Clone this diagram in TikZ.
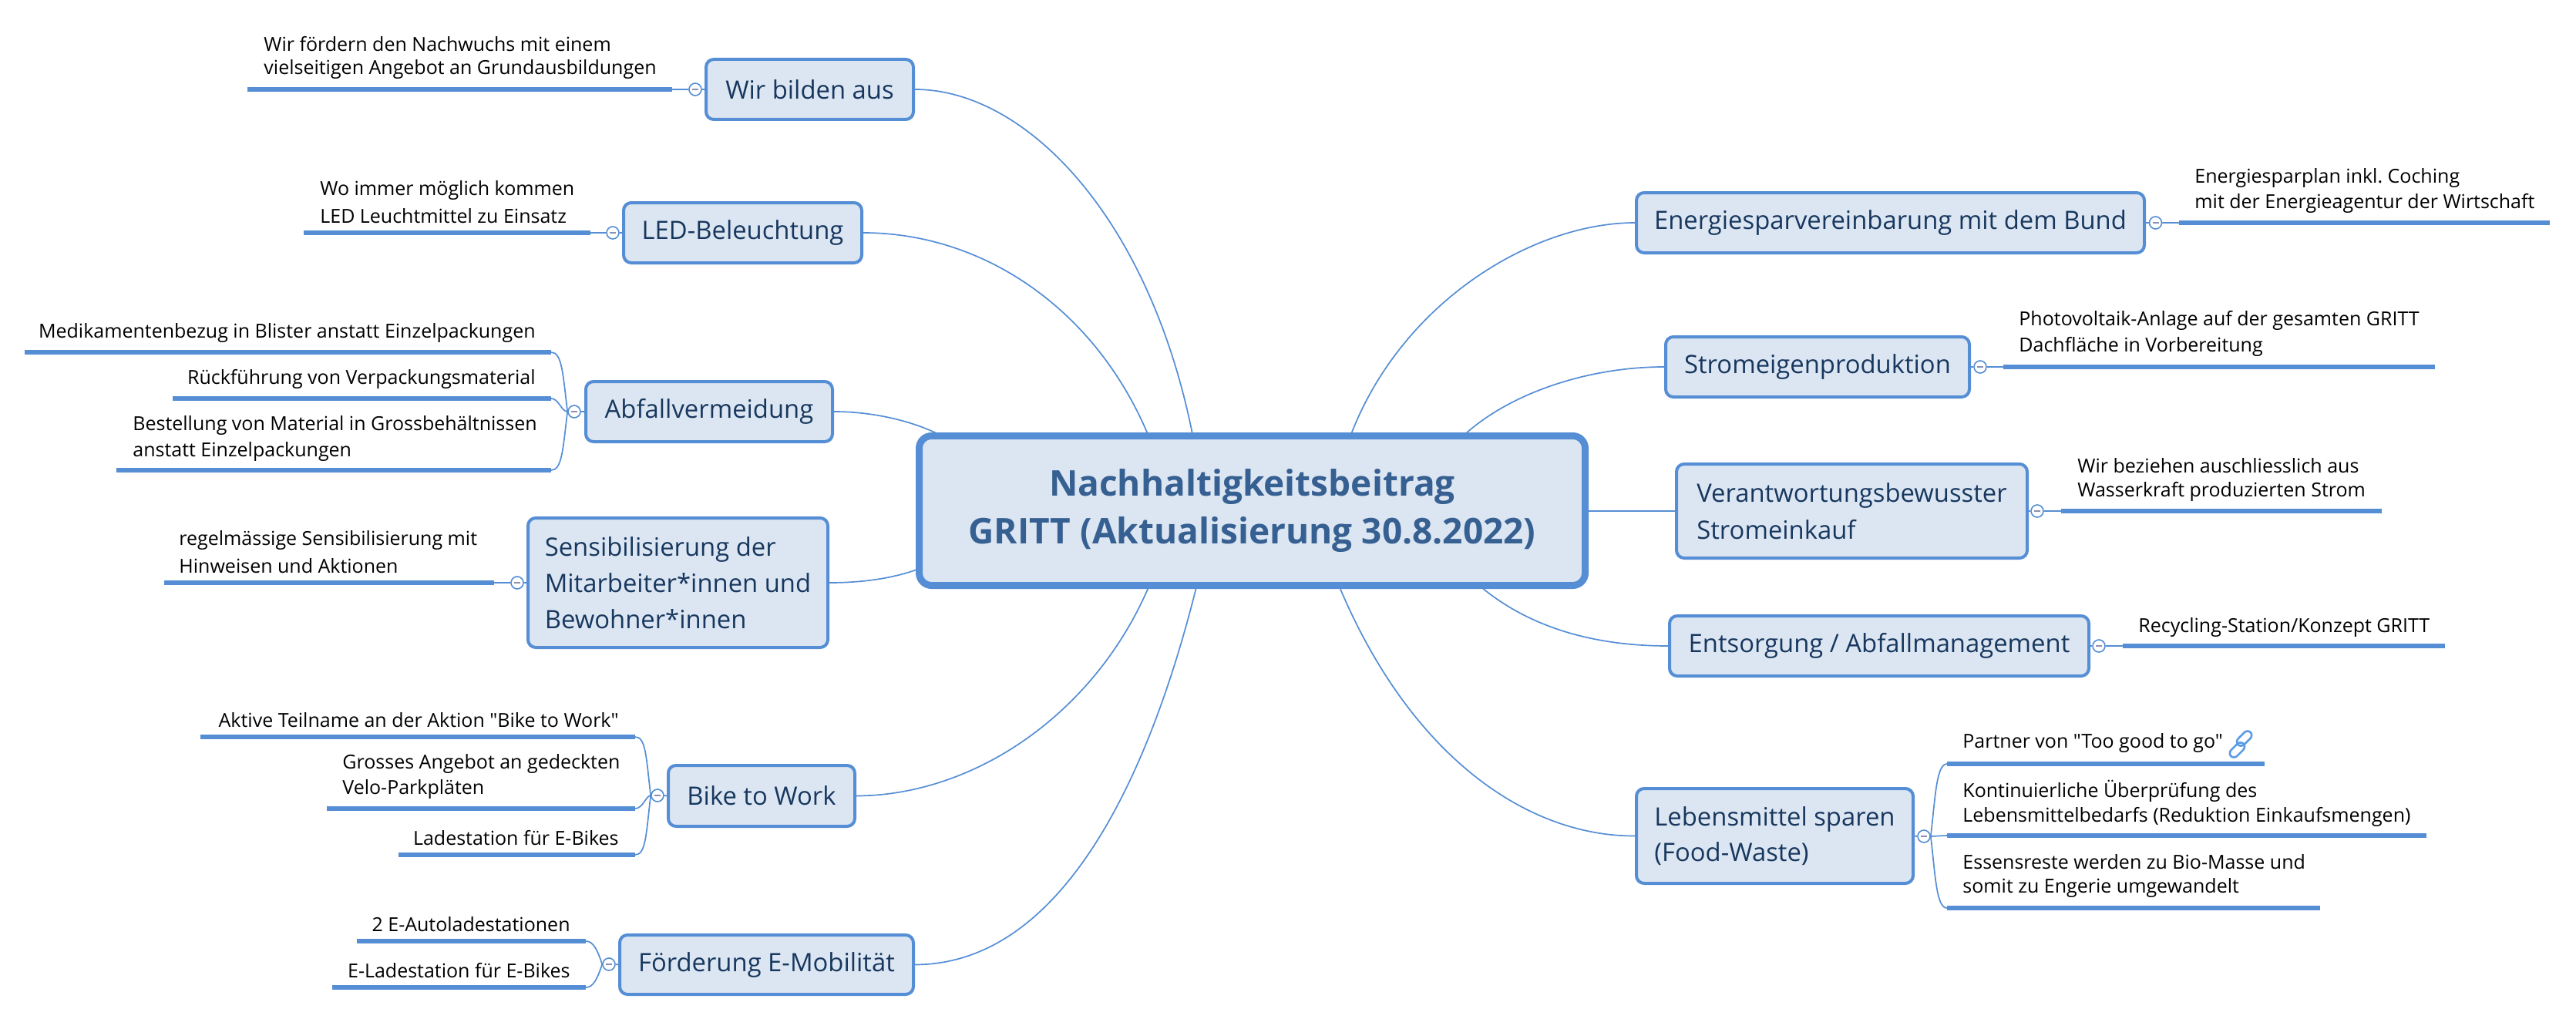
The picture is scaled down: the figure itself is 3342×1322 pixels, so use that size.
\documentclass[tikz,border=0pt]{standalone}
\usepackage{fontspec}
\setmainfont{Open Sans}[Ligatures=TeXOff]
\definecolor{bdr}{HTML}{558ED5}
\definecolor{boxfill}{HTML}{DCE6F2}
\definecolor{topictext}{HTML}{17375E}
\definecolor{roottext}{HTML}{376092}
\definecolor{dashc}{HTML}{8C8FB0}
\definecolor{linkc}{HTML}{5B9BE6}
\tikzset{
  topic/.style={draw=bdr,fill=boxfill,line width=2pt,rounded corners=5pt,text=topictext,align=left,inner sep=0pt},
  rootbox/.style={draw=bdr,fill=boxfill,line width=4.5pt,rounded corners=8pt,text=roottext,align=center,inner sep=0pt,font=\bfseries\fontsize{23}{31}\selectfont},
  conn/.style={draw=bdr,line width=.85pt},
  ulin/.style={draw=bdr,line width=3.2pt},
  collapse/.style={circle,draw=bdr,fill=white,line width=.8pt,minimum size=8pt,inner sep=0pt,
    path picture={\draw[dashc,line width=.7pt] ([xshift=-2pt]path picture bounding box.center) -- ([xshift=2pt]path picture bounding box.center);}},
  notetext/.style={inner sep=0pt,align=left,text=black}
}
% name, x1, y1, x2, y2, baseline (pt), text
\newcommand\tb[7]{\node[topic,minimum width={(#4-#2-2)*0.5pt},minimum height={(#5-#3-2)*0.5pt},font=\fontsize{16.4}{#6}\selectfont] (#1) at ({(#2+#4)/2},{(#3+#5)/2}) {#7};}
% name, anchor, x, y, baseline (pt), text
\newcommand\nt[6]{\node[notetext,anchor=#2,font=\fontsize{12.5}{#5}\selectfont\frenchspacing] (#1) at (#3,#4+2) {#6};}
% name, x1, x2, y
\newcommand\ul[4]{\coordinate (#1a) at (#2,#4);\coordinate (#1b) at (#3,#4);\draw[ulin] (#1a) -- (#1b);}
\begin{document}
\begin{tikzpicture}[x=0.5pt,y=-0.5pt]
\useasboundingbox (0,0) rectangle (3342,1322);
% central topic
\node[rootbox,minimum width={864*0.5pt},minimum height={194*0.5pt}] (root) at (1624.5,662.5) {Nachhaltigkeitsbeitrag\\GRITT (Aktualisierung 30.8.2022)};
\coordinate (rwir) at (1547,563);
\coordinate (rled) at (1489,563);
\coordinate (rabf) at (1217,563);
\coordinate (rsen) at (1192,738);
\coordinate (rbik) at (1490,762);
\coordinate (rfoe) at (1552,762);
\coordinate (rene) at (1753,563);
\coordinate (rstr) at (1901,563);
\coordinate (rver) at (2059,663);
\coordinate (rent) at (1922,762);
\coordinate (rleb) at (1738,762);
% topics
\tb{wir}{915}{76}{1186}{156}{20}{Wir bilden aus}
\tb{led}{808}{262}{1119}{342}{20}{LED-Beleuchtung}
\tb{abf}{759}{494}{1081}{574}{20}{Abfallvermeidung}
\tb{sen}{684}{671}{1075}{841}{23.5}{Sensibilisierung der\\Mitarbeiter*innen und\\Bewohner*innen}
\tb{bik}{866}{992}{1110}{1073}{20}{Bike to Work}
\tb{foe}{803}{1212}{1186}{1291}{20}{Förderung E-Mobilität}
\tb{ene}{2122}{249}{2783}{329}{20}{Energiesparvereinbarung mit dem Bund}
\tb{str}{2160}{436}{2556}{516}{20}{Stromeigenproduktion}
\tb{ver}{2174}{601}{2631}{725}{24}{Verantwortungsbewusster\\Stromeinkauf}
\tb{ent}{2165}{798}{2711}{878}{20}{Entsorgung / Abfallmanagement}
\tb{leb}{2122}{1022}{2483}{1147}{23}{Lebensmittel sparen\\(Food-Waste)}
% main connectors
\draw[conn] (wir.east) .. controls (1330,116) and (1490,280) .. (rwir);
\draw[conn] (led.east) .. controls (1275,302) and (1420,400) .. (rled);
\draw[conn] (abf.east) .. controls (1130,534) and (1180,545) .. (rabf);
\draw[conn] (sen.east) .. controls (1120,756) and (1160,750) .. (rsen);
\draw[conn] (bik.east) .. controls (1265,1032) and (1420,925) .. (rbik);
\draw[conn] (foe.east) .. controls (1400,1251) and (1505,950) .. (rfoe);
\draw[conn] (ene.west) .. controls (1990,289) and (1820,390) .. (rene);
\draw[conn] (str.west) .. controls (2060,476) and (1960,510) .. (rstr);
\draw[conn] (ver.west) -- (rver);
\draw[conn] (ent.west) .. controls (2060,838) and (1980,810) .. (rent);
\draw[conn] (leb.west) .. controls (1980,1085) and (1830,980) .. (rleb);
% collapse circles
\node[collapse] (cwir) at (902,116) {};
\node[collapse] (cled) at (795,302) {};
\node[collapse] (cabf) at (745,534) {};
\node[collapse] (csen) at (671,756) {};
\node[collapse] (cbik) at (853,1032) {};
\node[collapse] (cfoe) at (790,1251) {};
\node[collapse] (cene) at (2796.5,289) {};
\node[collapse] (cstr) at (2569,476) {};
\node[collapse] (cver) at (2643,663) {};
\node[collapse] (cent) at (2723,838) {};
\node[collapse] (cleb) at (2496,1085) {};
\foreach \b/\c in {wir/cwir,led/cled,abf/cabf,sen/csen,bik/cbik,foe/cfoe}{\draw[conn] (\b.west) -- (\c.east);}
\foreach \b/\c in {ene/cene,str/cstr,ver/cver,ent/cent,leb/cleb}{\draw[conn] (\b.east) -- (\c.west);}
% single subtopics
\nt{n1}{west}{342}{73}{15}{Wir fördern den Nachwuchs mit einem\\vielseitigen Angebot an Grundausbildungen}
\ul{u1}{321}{872}{116}
\draw[conn] (cwir.west) -- (u1b);
\nt{n2}{west}{415}{260}{18}{Wo immer möglich kommen\\LED Leuchtmittel zu Einsatz}
\ul{u2}{394}{766}{302}
\draw[conn] (cled.west) -- (u2b);
\nt{n3}{west}{232}{714}{18}{regelmässige Sensibilisierung mit\\Hinweisen und Aktionen}
\ul{u3}{213}{641}{756}
\draw[conn] (csen.west) -- (u3b);
\nt{n4}{west}{2847}{245.5}{16.5}{Energiesparplan inkl. Coching\\mit der Energieagentur der Wirtschaft}
\ul{u4}{2827}{3308}{289}
\draw[conn] (cene.east) -- (u4a);
\nt{n5}{west}{2619}{431}{16.8}{Photovoltaik-Anlage auf der gesamten GRITT\\Dachfläche in Vorbereitung}
\ul{u5}{2599}{3159}{476}
\draw[conn] (cstr.east) -- (u5a);
\nt{n6}{west}{2695}{620.5}{15.5}{Wir beziehen auschliesslich aus\\Wasserkraft produzierten Strom}
\ul{u6}{2674}{3090}{663}
\draw[conn] (cver.east) -- (u6a);
\nt{n7}{west}{2774}{812}{15.5}{Recycling-Station/Konzept GRITT}
\ul{u7}{2754}{3172}{838}
\draw[conn] (cent.east) -- (u7a);
% Abfallvermeidung group
\nt{n8}{east}{695}{430}{17}{Medikamentenbezug in Blister anstatt Einzelpackungen}
\ul{u8}{32}{715}{457}
\nt{n9}{east}{695}{490}{17}{Rückführung von Verpackungsmaterial}
\ul{u9}{224}{715}{517}
\nt{n10}{west}{172}{567}{17}{Bestellung von Material in Grossbehältnissen\\anstatt Einzelpackungen}
\ul{u10}{151}{715}{610}
\draw[conn] (cabf.west) .. controls +(-6,-50) and +(14,0) .. (u8b);
\draw[conn] (cabf.west) .. controls +(-8,0) and +(10,0) .. (u9b);
\draw[conn] (cabf.west) .. controls +(-6,50) and +(14,0) .. (u10b);
% Bike to Work group
\nt{n11}{east}{803}{932}{16.5}{Aktive Teilname an der Aktion "Bike to Work"}
\ul{u11}{260}{824}{956}
\nt{n12}{west}{444}{1005.5}{16.5}{Grosses Angebot an gedeckten\\Velo-Parkpläten}
\ul{u12}{424}{824}{1049}
\nt{n13}{east}{803}{1085}{16.5}{Ladestation für E-Bikes}
\ul{u13}{517}{824}{1109}
\draw[conn] (cbik.west) .. controls +(-6,-50) and +(14,0) .. (u11b);
\draw[conn] (cbik.west) .. controls +(-6,0) and +(10,0) .. (u12b);
\draw[conn] (cbik.west) .. controls +(-6,50) and +(14,0) .. (u13b);
% E-Mobilitaet group
\nt{n14}{east}{740}{1197}{16}{2 E-Autoladestationen}
\ul{u14}{463}{760}{1221}
\nt{n15}{east}{740}{1257}{16}{E-Ladestation für E-Bikes}
\ul{u15}{431}{760}{1281}
\draw[conn] (cfoe.west) .. controls +(-6,-18) and +(10,0) .. (u14b);
\draw[conn] (cfoe.west) .. controls +(-6,18) and +(10,0) .. (u15b);
% Lebensmittel group
\nt{n16}{west}{2546}{962}{16}{Partner von "Too good to go"}
\ul{u16}{2526}{2938}{991}
\nt{n17}{west}{2546}{1040}{16}{Kontinuierliche Überprüfung des\\Lebensmittelbedarfs (Reduktion Einkaufsmengen)}
\ul{u17}{2526}{3148}{1084}
\nt{n18}{west}{2546}{1134}{15.5}{Essensreste werden zu Bio-Masse und\\somit zu Engerie umgewandelt}
\ul{u18}{2526}{3010}{1178}
\draw[conn] (cleb.east) .. controls +(6,-50) and +(-14,0) .. (u16a);
\draw[conn] (cleb.east) -- (u17a);
\draw[conn] (cleb.east) .. controls +(6,50) and +(-14,0) .. (u18a);
% link icon
\begin{scope}[shift={(2907,965.5)},rotate=45,line width=1.3pt]
\draw[linkc,rounded corners=3pt] (-20,-3.5) rectangle (3,7.5);
\draw[linkc,rounded corners=3pt] (-3,-7.5) rectangle (20,3.5);
\end{scope}
\end{tikzpicture}
\end{document}
